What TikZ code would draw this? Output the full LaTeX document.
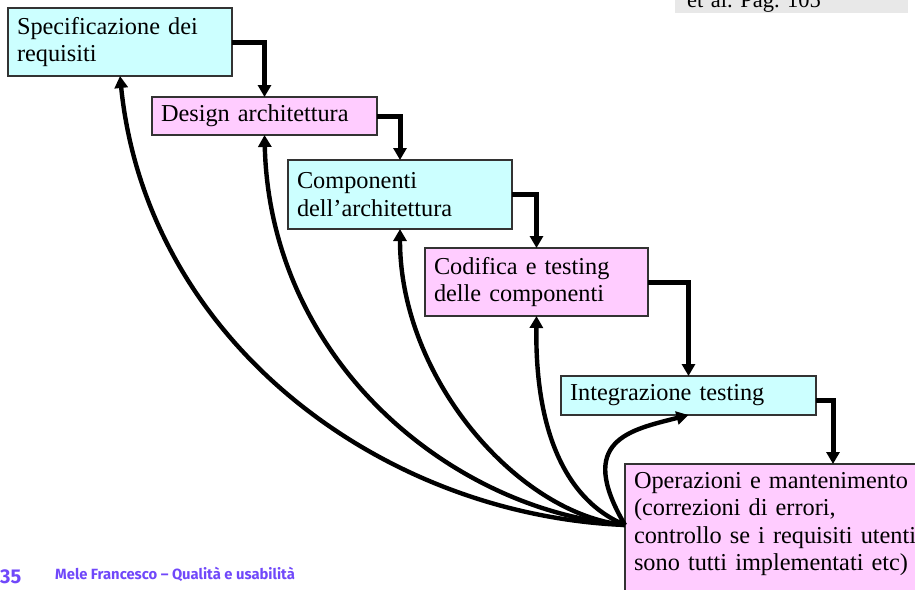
\documentclass[tikz,border=0pt]{standalone}
\usepackage{fontspec}
\setmainfont{Liberation Serif}
\newfontfamily\footfont{Fira Sans}
\usepackage{tikz}
\usetikzlibrary{arrows.meta,positioning}
\frenchspacing
\definecolor{boxcyan}{RGB}{204,255,255}
\definecolor{boxpink}{RGB}{255,204,255}
\definecolor{boxline}{RGB}{51,51,51}
\definecolor{notegrey}{RGB}{232,232,232}
\definecolor{footpurple}{RGB}{112,72,250}
\newcommand{\boxfont}{\fontsize{24.3}{27.5}\selectfont}
\tikzstyle{cbox}=[draw=boxline, line width=1.4pt, fill=boxcyan, inner xsep=9pt, inner ysep=4pt, outer sep=0pt, align=left, font=\boxfont]
\tikzstyle{pbox}=[cbox, fill=boxpink]
\tikzstyle{flow}=[line width=5pt, ->]
\tikzstyle{back}=[line width=4.4pt, ->]
\tikzstyle{elbow}=[to path={-| (\tikztotarget)}]

\begin{document}
\begin{tikzpicture}[x=1pt, y=-1pt, >={Triangle[length=12pt,width=13pt]}]
  \useasboundingbox (0,0) rectangle (915,589);
%
  \node[cbox, anchor=north west, text width=206pt, minimum height=68pt] (spec) at (8,8)
    {Specificazione dei\\requisiti};
  \node[pbox, text width=207pt, minimum height=38pt] (design) [below right=21pt and 144pt of spec.south west]
    {Design architettura};
  \node[cbox, text width=206pt, minimum height=69pt] (comp) [below right=25pt and 136pt of design.south west]
    {Componenti\\dell’architettura};
  \node[pbox, text width=205pt, minimum height=68pt] (cod) [below right=19pt and 137pt of comp.south west]
    {Codifica e testing\\delle componenti};
  \node[cbox, text width=237pt, minimum height=39pt] (integ) [below right=60pt and 136pt of cod.south west]
    {Integrazione testing};
  \node[pbox, text width=398pt, inner ysep=8pt, text depth=110pt] (oper) [below right=49pt and 64pt of integ.south west]
    {Operazioni e mantenimento\\(correzioni di errori,\\controllo se i requisiti utenti\\sono tutti implementati etc)};
%
  \path[flow]
  (spec.east) edge[flow, elbow] (design.north)
  (design.east) edge[flow, elbow] (comp.north)
  (comp.east) edge[flow, elbow] (cod.north)
  (cod.east) edge[flow, elbow] (integ.north)
  ([yshift=-5pt]integ.east) edge[flow, elbow] ([xshift=208pt]oper.north west);
%
  \coordinate (fb) at ([yshift=-61pt]oper.north west);
  \draw[back] (fb) .. controls +(-245,-10) and +(27,264) .. (spec.south);
  \draw[back] (fb) .. controls +(-175,-15) and +(5.5,225) .. (design.south);
  \draw[back] (fb) .. controls +(-105,-10) and +(0,151) .. (comp.south);
  \draw[back] (fb) .. controls +(-60,-25) and +(-1.5,114) .. (cod.south);
  \draw[back] (fb) .. controls +(-50,-85) and +(-58.5,15) .. (integ.south);
%
  \node[fill=notegrey, anchor=base west, inner xsep=12pt, inner ysep=1pt, text width=209pt, text depth=5pt,
    font=\fontsize{22.5}{27}\selectfont] (note) at (675,7) {et al. Pag. 105};
%
  \node[anchor=base west, inner sep=0pt, text=footpurple, font=\footfont\bfseries\fontsize{20}{24}\selectfont] (page) at (0,583) {35};
  \node[anchor=base west, inner sep=0pt, text=footpurple, font=\footfont\bfseries\fontsize{14.8}{17}\selectfont] (author) at (55,579)
    {Mele Francesco – Qualità e usabilità};
\end{tikzpicture}
\end{document}
